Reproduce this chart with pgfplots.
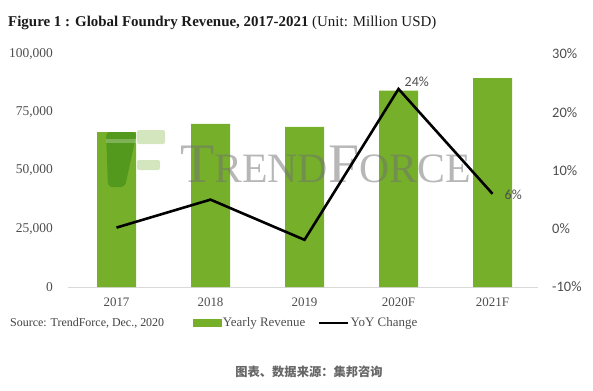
\documentclass[border=0pt]{standalone}
\usepackage{pgfplots}
\pgfplotsset{compat=1.18}
\usepackage{fontspec}
\setmainfont{Liberation Serif}
\newfontfamily\cjk{Noto Sans CJK SC}
\newfontfamily\rfont{Carlito}
\definecolor{bargreen}{HTML}{76B02A}
\definecolor{ticktext}{HTML}{4D4D4D}
\definecolor{titlecol}{HTML}{1A1A1A}
\definecolor{linecol}{HTML}{D9D9D9}
\definecolor{wmgray}{HTML}{707070}
\definecolor{logolight}{HTML}{D3E6BE}
\begin{document}
\begin{tikzpicture}[x=1bp,y=1bp]
\path[use as bounding box] (0,0) rectangle (593,390);
\node[anchor=base west, inner sep=0pt, text=titlecol] at (8,364)
  {\fontsize{15}{18}\selectfont\bfseries Figure 1 : Global Foundry Revenue, 2017-2021 \mdseries(Unit: Million USD)};
\begin{axis}[
  at={(68bp,103bp)}, anchor=south west,
  width=470bp, height=233bp, scale only axis,
  xmin=-0.516, xmax=4.484, ymin=0, ymax=100000,
  axis x line*=bottom, axis y line*=left,
  x axis line style={-, draw=linecol, line width=0.9bp},
  y axis line style={draw=none},
  major tick length=0pt,
  xtick={0,1,2,3,4}, xticklabels={2017,2018,2019,2020F,2021F},
  xticklabel style={anchor=north, inner sep=0pt, yshift=-11bp, font=\fontsize{13}{15}\selectfont, text=ticktext},
  ytick={0,25000,50000,75000,100000},
  yticklabels={0,{25,000},{50,000},{75,000},{100,000}},
  scaled y ticks=false,
  yticklabel style={anchor=east, inner sep=0pt, xshift=-15bp, font=\fontsize{13.5}{15}\selectfont, text=ticktext},
  clip=false,
]
\addplot[ybar, bar width=0.415, fill=bargreen, draw=none] coordinates {
  (0,66500) (1,70000) (2,68700) (3,84300) (4,89600)};
\end{axis}
% TrendForce watermark
\fill[black!60!green, opacity=0.3, rounded corners=4bp] (106,258) -- (137,258) -- (125,203) -- (108,203) -- cycle;
\fill[logolight, rounded corners=2bp] (137,246) rectangle (165,260);
\fill[logolight, rounded corners=2bp] (137,220) rectangle (160,230);
\fill[white, opacity=0.25] (106,247) rectangle (137,251);
\node[anchor=base west, inner sep=0pt, text=wmgray, opacity=0.5] at (180,208)
  {\fontsize{56}{56}\selectfont T\fontsize{42}{42}\selectfont REND\fontsize{56}{56}\selectfont F\fontsize{42}{42}\selectfont ORCE};
\begin{axis}[
  at={(68bp,103bp)}, anchor=south west,
  width=470bp, height=233bp, scale only axis,
  xmin=-0.516, xmax=4.484, ymin=-10, ymax=30,
  axis x line=none, axis y line*=right,
  y axis line style={draw=none},
  major tick length=0pt,
  ytick={-10,0,10,20,30},
  yticklabels={-10\%,0\%,10\%,20\%,30\%},
  yticklabel style={anchor=west, inner sep=0pt, xshift=14bp, font=\rfont\fontsize{14.5}{16}\selectfont, text=ticktext},
  clip=false,
  legend style={at={(0.266,-0.1545)}, anchor=west, draw=none, fill=none,
    legend columns=2, inner sep=0pt, outer sep=0pt,
    nodes={inner sep=1.5bp, font=\fontsize{13}{15}\selectfont, text=ticktext},
    /tikz/every even column/.append style={column sep=11bp}},
]
\addlegendimage{legend image code/.code={\fill[bargreen] (0bp,-3.5bp) rectangle (28bp,3.5bp);}}
\addlegendentry{Yearly Revenue}
\addplot[black, line width=2.6bp, mark=none,
  legend image code/.code={\draw[black, line width=2.2bp] (0bp,0bp) -- (29bp,0bp);}]
  coordinates {(0,0.2) (1,5) (2,-1.9) (3,24) (4,6)};
\addlegendentry{YoY Change}
\node[anchor=west, inner sep=0pt, xshift=6bp, yshift=7bp, text=ticktext, font=\rfont\fontsize{14}{16}\selectfont] at (axis cs:3,24) {24\%};
\node[anchor=west, inner sep=0pt, xshift=12bp, yshift=-1bp, text=ticktext, font=\rfont\fontsize{14}{16}\selectfont] at (axis cs:4,6) {6\%};
\end{axis}
\node[anchor=west, inner sep=0pt, text=black!75] at (10,67)
  {\fontsize{12}{14}\selectfont Source: TrendForce, Dec., 2020};
\node[anchor=center, inner sep=0pt, text=black!60] at (309,18)
  {\cjk\bfseries\fontsize{12.3}{14}\selectfont 图表、数据来源：集邦咨询};
\end{tikzpicture}
\end{document}
